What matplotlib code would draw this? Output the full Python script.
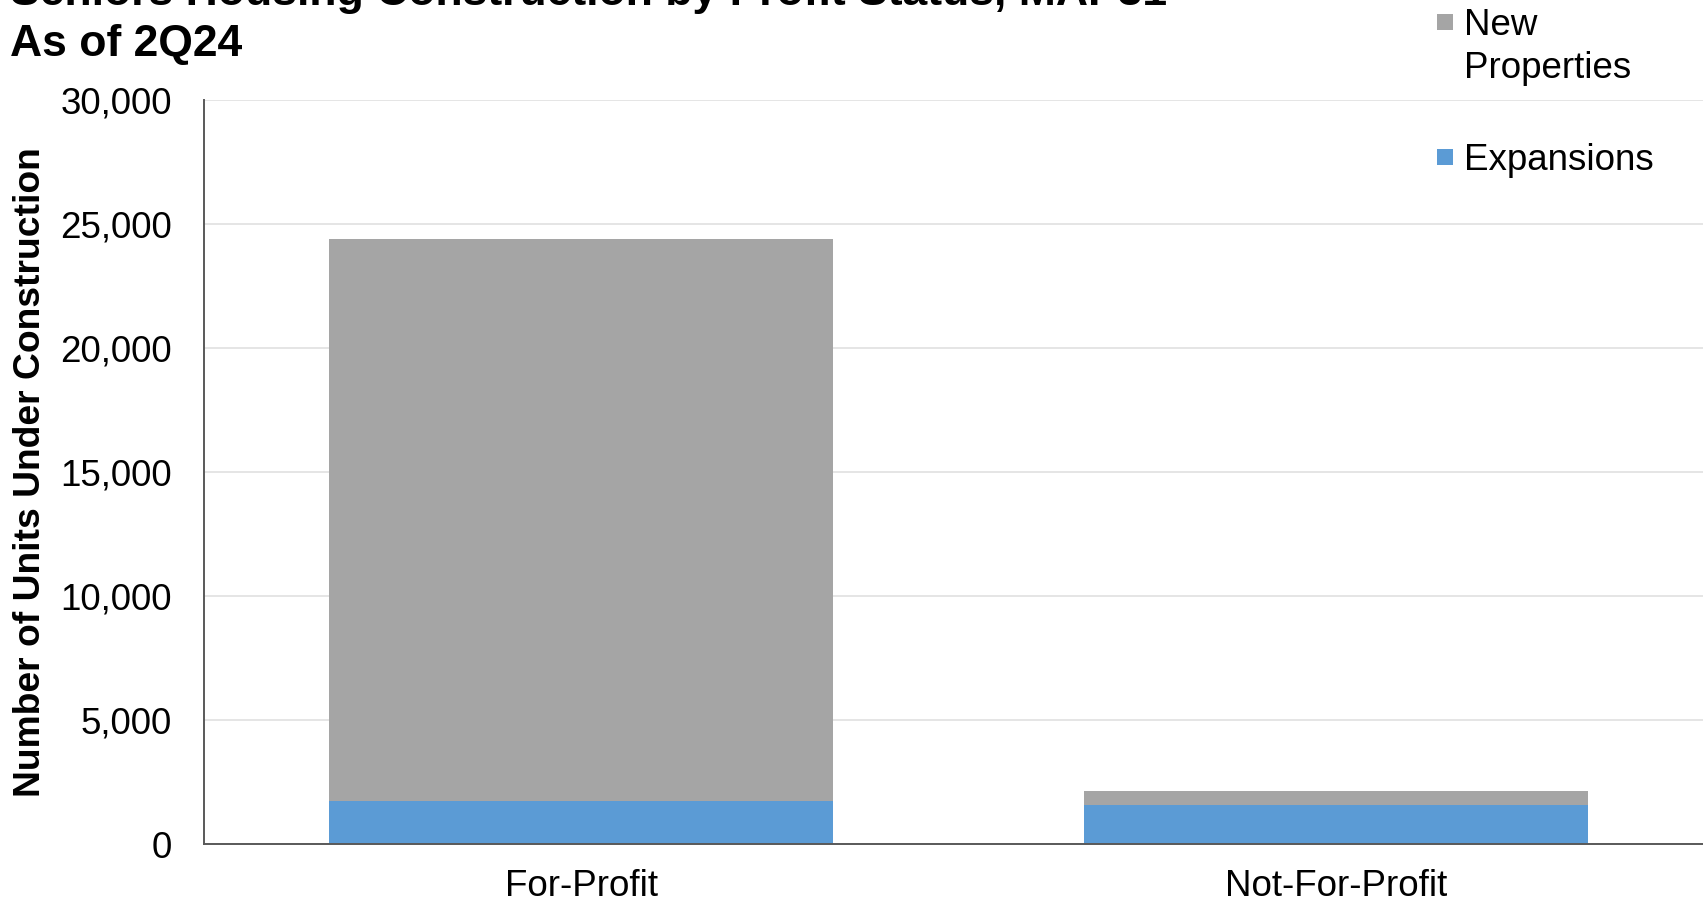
import matplotlib
matplotlib.use("Agg")
import matplotlib.pyplot as plt
from matplotlib.patches import Rectangle

plt.rcParams["font.family"] = ["Liberation Sans", "DejaVu Sans"]

# Units under construction by profit status
categories = ["For-Profit", "Not-For-Profit"]
expansions = [1750, 1575]
new_properties = [22650, 575]
series_labels = ["New\nProperties", "Expansions"]
y_ticks = [0, 5000, 10000, 15000, 20000, 25000, 30000]

GREY = "#A5A5A5"
BLUE = "#5B9BD5"
W, H = 1703, 905

fig = plt.figure(figsize=(W / 100, H / 100), dpi=100)
ax = fig.add_axes([204 / W, 1 - 844 / H, (1713 - 204) / W, (844 - 100) / H])

x = list(range(len(categories)))
ax.bar(x, expansions, width=0.668, color=BLUE, zorder=3)
ax.bar(x, new_properties, width=0.668, bottom=expansions, color=GREY, zorder=3)

ax.set_xlim(-0.5, 1.5)
ax.set_ylim(0, 30000)
ax.set_yticks(y_ticks)
ax.set_yticklabels([f"{v:,}" for v in y_ticks])
ax.set_xticks(x)
ax.set_xticklabels(categories)
ax.tick_params(axis="y", length=0, pad=23, labelsize=26.5)
ax.tick_params(axis="x", length=0, pad=18, labelsize=26.5)
ax.grid(axis="y", color="#E3E3E3", linewidth=1.3, zorder=0)
for side in ("top", "right"):
    ax.spines[side].set_visible(False)
for side in ("left", "bottom"):
    ax.spines[side].set_color("#595959")
    ax.spines[side].set_linewidth(1.4)
    ax.spines[side].set_zorder(4)

fig.text(31 / W, 0.5 * ((1 - 844 / H) + (1 - 100 / H)),
         "Number of Units Under Construction", rotation=90,
         ha="center", va="center", fontsize=26.8, fontweight="bold")

# Two-line title, its first line running off the top edge
fig.text(10 / W, 1 - 5 / H, "Seniors Housing Construction by Profit Status, MAP31",
         ha="left", va="baseline", fontsize=32, fontweight="bold")
fig.text(10 / W, 1 - 56 / H, "As of 2Q24",
         ha="left", va="baseline", fontsize=32, fontweight="bold")

# Legend keys: a square beside the first line of each label
legend_rows = [(GREY, series_labels[0], 22), (BLUE, series_labels[1], 157)]
for color, label, yc in legend_rows:
    fig.patches.append(Rectangle((1437 / W, 1 - (yc + 8) / H), 16 / W, 16 / H,
                                 transform=fig.transFigure, facecolor=color,
                                 edgecolor="none"))
    if "\n" in label:
        fig.text(1464 / W, 1 - (yc - 14) / H, label, ha="left", va="top",
                 fontsize=26.5, linespacing=1.28)
    else:
        fig.text(1464 / W, 1 - yc / H, label, ha="left", va="center_baseline",
                 fontsize=26.5)

fig.savefig("out.png", dpi=100, facecolor="white")
